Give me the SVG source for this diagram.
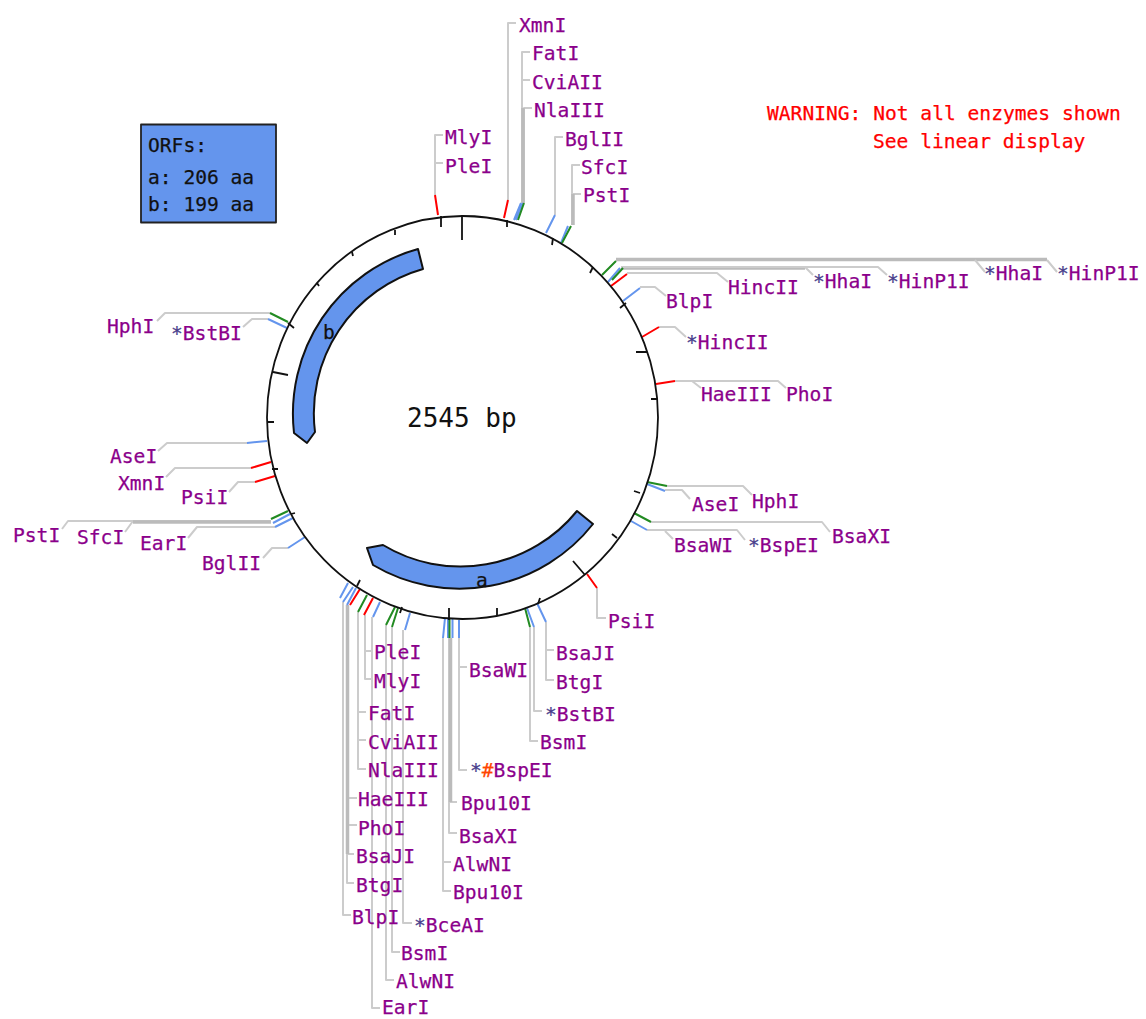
<svg xmlns="http://www.w3.org/2000/svg" width="1146" height="1019" viewBox="0 0 1146 1019">
<style>
text{font-family:"DejaVu Sans Mono","Liberation Mono",monospace;font-size:19.6px;fill:#8b008b;stroke:#8b008b;stroke-width:.25}
.k{fill:#111;stroke:#111}.w{fill:#f00;stroke:#f00}.big{font-size:26px;fill:#111;stroke:none}
.s{fill:#483d8b;stroke:#483d8b}.h{fill:#ff4500;stroke:#ff4500}
path,line,ellipse,rect,polygon,polyline{stroke-linejoin:round}
.g{fill:none;stroke:#ccc;stroke-width:2}.g2{fill:none;stroke:#bbb;stroke-width:3.5}
.r{stroke:#f00;stroke-width:2;fill:none}.b{stroke:#6495ed;stroke-width:2;fill:none}.n{stroke:#228b22;stroke-width:2;fill:none}
.t{stroke:#111;stroke-width:1.8;fill:none}
.orf{fill:#6495ed;stroke:#111;stroke-width:2}
</style>
<rect width="1146" height="1019" fill="#fff"/>
<g id="connectors">
<path class="g" d="M435 195V135H443M435 163H443M508 200V23H516M522 203V52H530M522 80H530M524 203V108H532M555 215V137H563M572 225V165H580M572 194H581"/>
<path class="g2" d="M523 203V108M573 225V194M616 259.500H1047M621 268H805"/>
<path class="g" d="M975 260L985 272M1047 260L1057 272M621 267H878L887 275M805 267L813 275M627 273H717L728 282M640 287H655L666 296M659 327H675L686 337M675 381H778L786 388M692 381L701 388M667 486H743L752 495M665 490H682L690 499M651 522H822L830 532M647 530H737L745 540M665 531L673 539M597 588V618H606"/>
<path class="g" d="M546 622V680H554M546 650H554M534 627V711H542M530 627V741H538M459 638V770H467M459 667H467M449 638V833H457M449 802H457M443 638V891H451M443 862H451"/>
<path class="g2" d="M450.500 638V802"/>
<path class="g" d="M343 602V915H351M347 605V883H354M347 798H357M347 825H357M347 854H354M358 612V769H366M358 712H366M358 740H366M365 615V679H373M365 651H373M372 617V1008H380M386 625V980H394M392 627V952H400M403 630V923H412"/>
<path class="g2" d="M347.500 605V854"/>
<path class="g" d="M247 443H167L158 451M251 468H175L166 477M255 482H238L229 492M271 521H68L62 529M133 521L125 532M275 527H197L188 538M288 548H272L263 558M270 313H165L157 321M268 319H252L243 327"/>
<path class="g2" d="M271 522H133"/>
<path class="r" d="M435 195L438 215M508 200L504 218M627 274L611 286M659 327L642 337M675 381L656 384M587 574L597 588M360 589L350 605M373 598L364 615M271 462L251 468M275 476L255 482"/>
<path class="b" d="M523 203L516 220M521 203L514 220M555 215L546 233M568 226L561 243M620 268L608 282M640 288L623 301M647 484L665 491M631 521L647 530M537 603L546 622M527 608L534 627M445 618L443 638M448 618L448 638M452.500 618V638M459 620V638M348 583L340 598M353 587L343 602M356 588L347 605M380 602L373 617M410 613L405 630M267 441L247 443M290 514L273 523M293 518L275 527M305 537L288 548M287 328L268 319"/>
<path class="n" d="M524 203L518 220M571 226L562 243M616 261L602 275M623 268L612 280M647 482L667 486M634 513L651 522M525 608L530 627M449.500 618V638M367 595L358 612M395 607L386 625M398 608L392 627M288 511L271 519M288 322L270 313"/>
</g>
<g id="plasmid">
<ellipse class="t" cx="462.500" cy="417.500" rx="195.500" ry="201.500"/>
<path class="t" d="M462 215V240M441 216V227M507 220V227M553 238L552 245M593 267L590 273M626 303L620 308M647 352H636M658 399H651M640 493L634 491M617 538L612 534M573 561L585 575M540 598L538 604M497 608V615M449 620V608M402 607L400 613M360 580L357 586M278 469L272 469M295 513L291 514M267 422H274M273 372L288 375M288 323L294 328M317 283L319 286M352 252L353 256M395 230L395 235"/>
<text class="big" x="407" y="427">2545 bp</text>
</g>
<g id="orf-a"><path class="orf" d="M577 511L593 524A170 170 0 0 1 373 565L367 548L383 545A150 150 0 0 0 577 511Z"/><text class="k" x="476" y="587">a</text></g>
<g id="orf-b"><path class="orf" d="M418 249L423 269A150 150 0 0 0 315 432L307 443L294 433A171 171 0 0 1 418 249Z"/><text class="k" x="323" y="339">b</text></g>
<g id="orf-legend"><rect x="141" y="124.500" width="135" height="98" fill="#6495ed" stroke="#222" stroke-width="1.800"/><text class="k" x="148" y="152">ORFs:</text><text class="k" x="148" y="184">a: 206 aa</text><text class="k" x="148" y="211">b: 199 aa</text></g>
<g id="warning"><text class="w" x="767" y="120">WARNING: Not all enzymes shown</text><text class="w" x="873" y="148">See linear display</text></g>
<g id="l1"><text x="519" y="32">XmnI</text></g>
<g id="l2"><text x="532" y="60">FatI</text></g>
<g id="l3"><text x="532" y="89">CviAII</text></g>
<g id="l4"><text x="534" y="117">NlaIII</text></g>
<g id="l5"><text x="565" y="146">BglII</text></g>
<g id="l6"><text x="581" y="174">SfcI</text></g>
<g id="l7"><text x="583" y="202">PstI</text></g>
<g id="l8"><text x="445" y="144">MlyI</text></g>
<g id="l9"><text x="445" y="173">PleI</text></g>
<g id="l10"><text x="728" y="294">HincII</text></g>
<g id="l11"><text x="813" y="288"><tspan class="s">*</tspan>HhaI</text></g>
<g id="l12"><text x="887" y="288"><tspan class="s">*</tspan>HinP1I</text></g>
<g id="l13"><text x="984" y="280"><tspan class="s">*</tspan>HhaI</text></g>
<g id="l14"><text x="1057" y="280"><tspan class="s">*</tspan>HinP1I</text></g>
<g id="l15"><text x="666" y="308">BlpI</text></g>
<g id="l16"><text x="686" y="349"><tspan class="s">*</tspan>HincII</text></g>
<g id="l17"><text x="701" y="401">HaeIII</text></g>
<g id="l18"><text x="786" y="401">PhoI</text></g>
<g id="l19"><text x="752" y="508">HphI</text></g>
<g id="l20"><text x="692" y="511">AseI</text></g>
<g id="l21"><text x="832" y="543">BsaXI</text></g>
<g id="l22"><text x="674" y="552">BsaWI</text></g>
<g id="l23"><text x="748" y="552"><tspan class="s">*</tspan>BspEI</text></g>
<g id="l24"><text x="608" y="628">PsiI</text></g>
<g id="l25"><text x="556" y="660">BsaJI</text></g>
<g id="l26"><text x="556" y="689">BtgI</text></g>
<g id="l27"><text x="545" y="721"><tspan class="s">*</tspan>BstBI</text></g>
<g id="l28"><text x="540" y="749">BsmI</text></g>
<g id="l29"><text x="469" y="677">BsaWI</text></g>
<g id="l30"><text x="470" y="777"><tspan class="s">*</tspan><tspan class="h">#</tspan>BspEI</text></g>
<g id="l31"><text x="461" y="810">Bpu10I</text></g>
<g id="l32"><text x="459" y="843">BsaXI</text></g>
<g id="l33"><text x="453" y="871">AlwNI</text></g>
<g id="l34"><text x="453" y="899">Bpu10I</text></g>
<g id="l35"><text x="374" y="659">PleI</text></g>
<g id="l36"><text x="374" y="688">MlyI</text></g>
<g id="l37"><text x="368" y="720">FatI</text></g>
<g id="l38"><text x="368" y="749">CviAII</text></g>
<g id="l39"><text x="368" y="777">NlaIII</text></g>
<g id="l40"><text x="358" y="806">HaeIII</text></g>
<g id="l41"><text x="358" y="835">PhoI</text></g>
<g id="l42"><text x="356" y="863">BsaJI</text></g>
<g id="l43"><text x="356" y="892">BtgI</text></g>
<g id="l44"><text x="352" y="924">BlpI</text></g>
<g id="l45"><text x="414" y="932"><tspan class="s">*</tspan>BceAI</text></g>
<g id="l46"><text x="401" y="960">BsmI</text></g>
<g id="l47"><text x="396" y="988">AlwNI</text></g>
<g id="l48"><text x="382" y="1014">EarI</text></g>
<g id="l49"><text x="107" y="333">HphI</text></g>
<g id="l50"><text x="171" y="340"><tspan class="s">*</tspan>BstBI</text></g>
<g id="l51"><text x="110" y="463">AseI</text></g>
<g id="l52"><text x="118" y="490">XmnI</text></g>
<g id="l53"><text x="181" y="504">PsiI</text></g>
<g id="l54"><text x="13" y="542">PstI</text></g>
<g id="l55"><text x="77" y="544">SfcI</text></g>
<g id="l56"><text x="140" y="550">EarI</text></g>
<g id="l57"><text x="202" y="570">BglII</text></g>
</svg>
